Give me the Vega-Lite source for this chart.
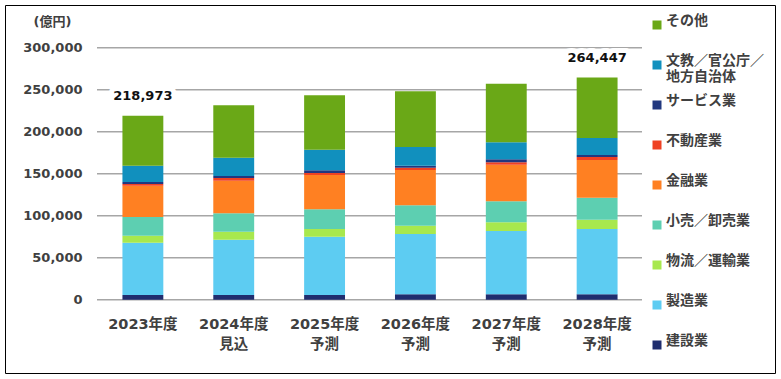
{
  "$schema": "https://vega.github.io/schema/vega-lite/v6.json",
  "width": 770,
  "height": 368,
  "autosize": {"type": "none"},
  "padding": 5,
  "background": "white",
  "config": {
    "font": "DejaVu Sans, Noto Sans CJK JP",
    "view": {"stroke": "#000000", "strokeWidth": 1}
  },
  "datasets": {
    "grid": [{"g": 0}, {"g": 50000}, {"g": 100000}, {"g": 150000}, {"g": 200000}, {"g": 250000}, {"g": 300000}],
    "totals": [
      {"year": "2023年度", "total": 218973},
      {"year": "2028年度\n予測", "total": 264447}
    ],
    "sales": [
      {"year": "2023年度", "industry": "建設業", "rank": 1, "value": 5600},
      {"year": "2023年度", "industry": "製造業", "rank": 2, "value": 62300},
      {"year": "2023年度", "industry": "物流／運輸業", "rank": 3, "value": 8300},
      {"year": "2023年度", "industry": "小売／卸売業", "rank": 4, "value": 22300},
      {"year": "2023年度", "industry": "金融業", "rank": 5, "value": 37200},
      {"year": "2023年度", "industry": "不動産業", "rank": 6, "value": 2000},
      {"year": "2023年度", "industry": "サービス業", "rank": 7, "value": 2400},
      {"year": "2023年度", "industry": "文教／官公庁／\n地方自治体", "rank": 8, "value": 19400},
      {"year": "2023年度", "industry": "その他", "rank": 9, "value": 59473},

      {"year": "2024年度\n見込", "industry": "建設業", "rank": 1, "value": 5600},
      {"year": "2024年度\n見込", "industry": "製造業", "rank": 2, "value": 65800},
      {"year": "2024年度\n見込", "industry": "物流／運輸業", "rank": 3, "value": 9600},
      {"year": "2024年度\n見込", "industry": "小売／卸売業", "rank": 4, "value": 21900},
      {"year": "2024年度\n見込", "industry": "金融業", "rank": 5, "value": 38800},
      {"year": "2024年度\n見込", "industry": "不動産業", "rank": 6, "value": 3200},
      {"year": "2024年度\n見込", "industry": "サービス業", "rank": 7, "value": 2400},
      {"year": "2024年度\n見込", "industry": "文教／官公庁／\n地方自治体", "rank": 8, "value": 21800},
      {"year": "2024年度\n見込", "industry": "その他", "rank": 9, "value": 62300},

      {"year": "2025年度\n予測", "industry": "建設業", "rank": 1, "value": 5600},
      {"year": "2025年度\n予測", "industry": "製造業", "rank": 2, "value": 69400},
      {"year": "2025年度\n予測", "industry": "物流／運輸業", "rank": 3, "value": 9200},
      {"year": "2025年度\n予測", "industry": "小売／卸売業", "rank": 4, "value": 23400},
      {"year": "2025年度\n予測", "industry": "金融業", "rank": 5, "value": 40900},
      {"year": "2025年度\n予測", "industry": "不動産業", "rank": 6, "value": 2300},
      {"year": "2025年度\n予測", "industry": "サービス業", "rank": 7, "value": 3200},
      {"year": "2025年度\n予測", "industry": "文教／官公庁／\n地方自治体", "rank": 8, "value": 24600},
      {"year": "2025年度\n予測", "industry": "その他", "rank": 9, "value": 64700},

      {"year": "2026年度\n予測", "industry": "建設業", "rank": 1, "value": 6400},
      {"year": "2026年度\n予測", "industry": "製造業", "rank": 2, "value": 71800},
      {"year": "2026年度\n予測", "industry": "物流／運輸業", "rank": 3, "value": 9900},
      {"year": "2026年度\n予測", "industry": "小売／卸売業", "rank": 4, "value": 24300},
      {"year": "2026年度\n予測", "industry": "金融業", "rank": 5, "value": 42000},
      {"year": "2026年度\n予測", "industry": "不動産業", "rank": 6, "value": 2700},
      {"year": "2026年度\n予測", "industry": "サービス業", "rank": 7, "value": 2400},
      {"year": "2026年度\n予測", "industry": "文教／官公庁／\n地方自治体", "rank": 8, "value": 22300},
      {"year": "2026年度\n予測", "industry": "その他", "rank": 9, "value": 66300},

      {"year": "2027年度\n予測", "industry": "建設業", "rank": 1, "value": 6400},
      {"year": "2027年度\n予測", "industry": "製造業", "rank": 2, "value": 75400},
      {"year": "2027年度\n予測", "industry": "物流／運輸業", "rank": 3, "value": 10300},
      {"year": "2027年度\n予測", "industry": "小売／卸売業", "rank": 4, "value": 25000},
      {"year": "2027年度\n予測", "industry": "金融業", "rank": 5, "value": 43600},
      {"year": "2027年度\n予測", "industry": "不動産業", "rank": 6, "value": 2900},
      {"year": "2027年度\n予測", "industry": "サービス業", "rank": 7, "value": 3500},
      {"year": "2027年度\n予測", "industry": "文教／官公庁／\n地方自治体", "rank": 8, "value": 20300},
      {"year": "2027年度\n予測", "industry": "その他", "rank": 9, "value": 69700},

      {"year": "2028年度\n予測", "industry": "建設業", "rank": 1, "value": 6400},
      {"year": "2028年度\n予測", "industry": "製造業", "rank": 2, "value": 77800},
      {"year": "2028年度\n予測", "industry": "物流／運輸業", "rank": 3, "value": 11000},
      {"year": "2028年度\n予測", "industry": "小売／卸売業", "rank": 4, "value": 26200},
      {"year": "2028年度\n予測", "industry": "金融業", "rank": 5, "value": 44900},
      {"year": "2028年度\n予測", "industry": "不動産業", "rank": 6, "value": 3600},
      {"year": "2028年度\n予測", "industry": "サービス業", "rank": 7, "value": 2400},
      {"year": "2028年度\n予測", "industry": "文教／官公庁／\n地方自治体", "rank": 8, "value": 20200},
      {"year": "2028年度\n予測", "industry": "その他", "rank": 9, "value": 71947}
    ]
  },
  "layer": [
    {
      "data": {"name": "grid"},
      "mark": {"type": "rule", "color": "#a6a6a6", "strokeWidth": 1.5},
      "encoding": {
        "y": {"field": "g", "type": "quantitative", "scale": {"domain": [0, 300000], "range": [294.7, 42.7]}, "axis": null},
        "x": {"datum": 0, "type": "quantitative", "scale": {"domain": [0, 1], "range": [92, 637]}, "axis": null},
        "x2": {"datum": 1}
      }
    },
    {
      "layer": [
        {
          "data": {"name": "sales"},
          "mark": {"type": "bar"},
          "encoding": {
            "x": {
              "field": "year", "type": "nominal",
              "scale": {"domain": ["2023年度", "2024年度\n見込", "2025年度\n予測", "2026年度\n予測", "2027年度\n予測", "2028年度\n予測"], "range": [92, 638], "paddingInner": 0.55, "paddingOuter": 0.28},
              "axis": {"title": null, "orient": "bottom", "offset": -73.3, "domain": false, "ticks": false, "labelAngle": 0,
                "labelExpr": "split(datum.label, '\\n')", "labelFontSize": 14.5, "labelFontWeight": "bold", "labelColor": "#404040",
                "labelPadding": 18, "labelLineHeight": 20, "labelBaseline": "top"}
            },
            "y": {
              "field": "value", "type": "quantitative", "stack": "zero", "title": "(億円)",
              "scale": {"domain": [0, 300000], "range": [294.7, 42.7]},
              "axis": {"title": "(億円)", "titleAngle": 0, "titleX": -30, "titleY": 16.5, "titleAlign": "center", "titleBaseline": "middle",
                "titleFontSize": 13, "titleFontWeight": "bold", "titleColor": "#404040",
                "offset": -77, "domain": false, "ticks": false, "tickSize": 0, "labelPadding": 0, "grid": false,
                "values": [0, 50000, 100000, 150000, 200000, 250000, 300000], "format": ",d",
                "labelFontSize": 13, "labelFontWeight": "bold", "labelColor": "#404040"}
            },
            "color": {
              "field": "industry", "type": "nominal",
              "scale": {
                "domain": ["その他", "文教／官公庁／\n地方自治体", "サービス業", "不動産業", "金融業", "小売／卸売業", "物流／運輸業", "製造業", "建設業"],
                "range": ["#6AA817", "#1190BE", "#22387F", "#EF4123", "#FF8022", "#5DCFB1", "#A8E84E", "#5DCCF2", "#1F2D6E"]
              },
              "legend": {"title": null, "orient": "none", "legendX": 645, "legendY": 13, "columns": 1,
                "symbolType": "square", "symbolSize": 81, "symbolStrokeWidth": 0,
                "labelFontSize": 14, "labelFontWeight": "bold", "labelColor": "#404040", "labelOffset": 2,
                "rowPadding": 10, "gridAlign": "all", "labelExpr": "split(datum.label, '\\n')", "labelBaseline": "alphabetic", "labelLimit": 200}
            },
            "order": {"field": "rank", "type": "quantitative", "sort": "ascending"}
          }
        },
        {
          "data": {"name": "totals"},
          "mark": {"type": "text", "dy": -20, "fontSize": 13, "fontWeight": "bold", "stroke": "white", "strokeWidth": 10, "strokeJoin": "round", "fill": "white"},
          "encoding": {
            "x": {"field": "year", "type": "nominal"},
            "y": {"field": "total", "type": "quantitative", "title": "(億円)"},
            "text": {"field": "total", "type": "quantitative", "format": ",d"}
          }
        },
        {
          "data": {"name": "totals"},
          "mark": {"type": "text", "dy": -20, "fontSize": 13, "fontWeight": "bold", "color": "#111111"},
          "encoding": {
            "x": {"field": "year", "type": "nominal"},
            "y": {"field": "total", "type": "quantitative", "title": "(億円)"},
            "text": {"field": "total", "type": "quantitative", "format": ",d"}
          }
        }
      ]
    }
  ],
  "resolve": {"scale": {"x": "independent", "y": "independent"}}
}
